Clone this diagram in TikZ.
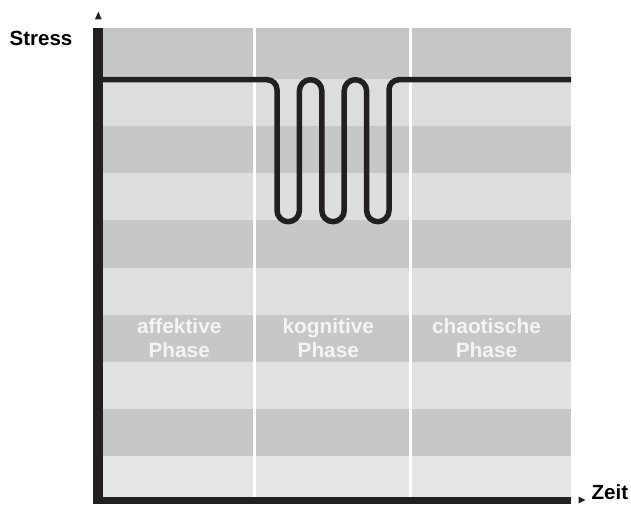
\documentclass[tikz,border=0pt]{standalone}
\usepackage{fontspec}
\setmainfont{Liberation Sans}
\definecolor{bandDark}{HTML}{C6C7C9}
\definecolor{bandL1}{HTML}{DCDDDF}
\definecolor{bandL2}{HTML}{DDDEE0}
\definecolor{bandL3}{HTML}{DFE0E2}
\definecolor{bandL4}{HTML}{E1E2E4}
\definecolor{bandL5}{HTML}{E4E5E7}
\definecolor{ink}{HTML}{231F20}
\definecolor{labelwhite}{HTML}{F4F4F4}
\begin{document}
\begin{tikzpicture}[x=1pt,y=1pt,
  axistext/.style={font=\fontsize{20.5}{24}\selectfont\bfseries, text=black, inner sep=0pt},
  phasetext/.style={font=\fontsize{20.8}{24}\selectfont\bfseries, text=labelwhite, inner sep=0pt, anchor=base},
  sepline/.style={draw=white, line width=2.8pt},
  curveline/.style={draw=ink, line width=5.5pt}]
\useasboundingbox (0,0) rectangle (631,504);
% bands
\fill[bandDark] (102.7,424.5) rectangle (571,476);
\fill[bandL1]   (102.7,377.7) rectangle (571,424.5);
\fill[bandDark] (102.7,330.7) rectangle (571,377.7);
\fill[bandL2]   (102.7,283.7) rectangle (571,330.7);
\fill[bandDark] (102.7,236.2) rectangle (571,283.7);
\fill[bandL3]   (102.7,189.0) rectangle (571,236.2);
\fill[bandDark] (102.7,142.2) rectangle (571,189.0);
\fill[bandL4]   (102.7,95.4)  rectangle (571,142.2);
\fill[bandDark] (102.7,47.6)  rectangle (571,95.4);
\fill[bandL5]   (102.7,0)     rectangle (571,47.6);
% column separators
\draw[sepline] (254.3,0) -- (254.3,476);
\draw[sepline] (410.6,0) -- (410.6,476);
% stress curve
\draw[curveline, line join=round]
  (98,424.3) -- (267,424.3) arc[start angle=90, end angle=0, radius=10]
  -- (277,293.5) arc[start angle=180, end angle=360, radius=11.2]
  -- (299.4,413.1) arc[start angle=180, end angle=0, radius=11.2]
  -- (321.8,293.5) arc[start angle=180, end angle=360, radius=11.2]
  -- (344.2,413.1) arc[start angle=180, end angle=0, radius=11.2]
  -- (366.6,293.5) arc[start angle=180, end angle=360, radius=11.2]
  -- (389,414.3) arc[start angle=180, end angle=90, radius=10]
  -- (571,424.3);
% axes
\fill[ink] (93.3,0) rectangle (102.7,475.7);
\fill[ink] (93.3,0) rectangle (571,7.3);
\fill[ink] (95,484.7) -- (101.7,484.7) -- (98.35,492.3) -- cycle;
\fill[ink] (578.5,0.6) -- (578.5,7.4) -- (585.5,4) -- cycle;
% texts
\node[axistext, anchor=base west] (stress) at (9.5,458) {Stress};
\node[axistext, anchor=base west] (zeit) at (591.5,4.6) {Zeit};
\node[phasetext] (aff1) at (179.2,170.6) {affektive};
\node[phasetext] (aff2) at (179.2,146.6) {Phase};
\node[phasetext] (kog1) at (328.3,170.6) {kognitive};
\node[phasetext] (kog2) at (328.3,146.6) {Phase};
\node[phasetext] (cha1) at (486.5,170.6) {chaotische};
\node[phasetext] (cha2) at (486.5,146.6) {Phase};
\end{tikzpicture}
\end{document}
